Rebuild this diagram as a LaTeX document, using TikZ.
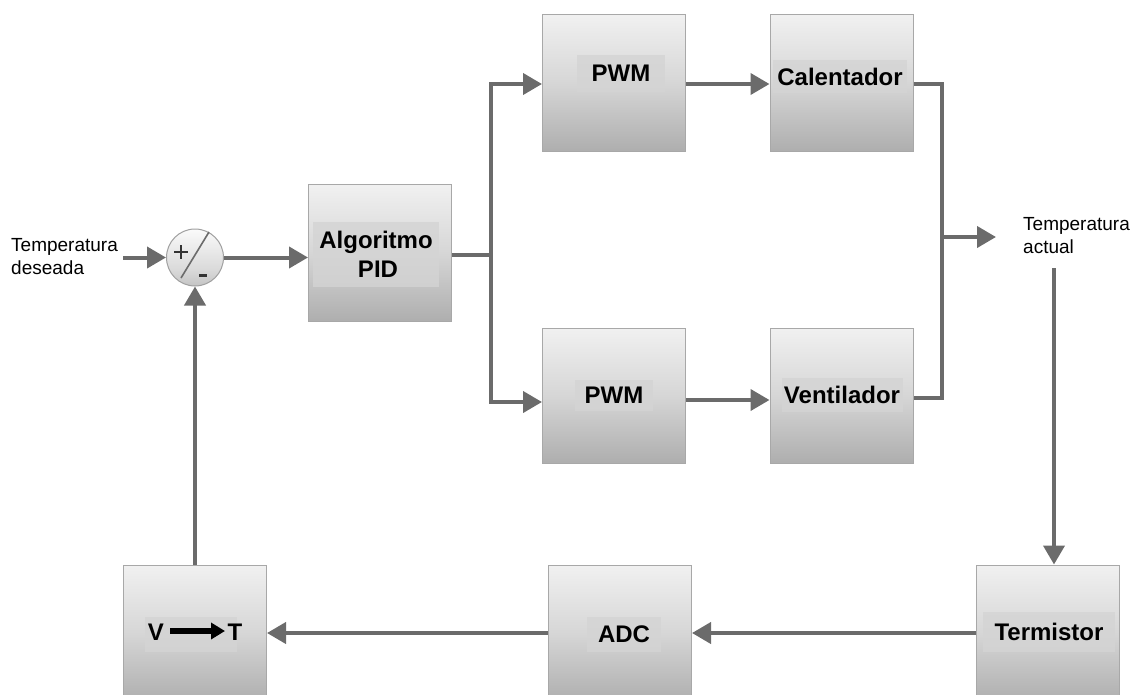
\documentclass[tikz,border=0pt]{standalone}
\usepackage{fontspec}
\setmainfont{Liberation Sans}
\usetikzlibrary{arrows.meta,shapes.geometric}
\definecolor{lc}{HTML}{6B6B6B}
\definecolor{bb}{HTML}{A8A8A8}
\definecolor{hl}{HTML}{D4D4D4}
\definecolor{gA}{HTML}{7A7A7A}
\definecolor{gB}{HTML}{9E9E9E}
\definecolor{gC}{HTML}{D6D6D6}
\definecolor{gD}{HTML}{F6F6F6}
\definecolor{sA}{HTML}{A0A0A0}
\definecolor{sB}{HTML}{DADADA}
\definecolor{sg}{HTML}{333333}
\pgfdeclareverticalshading{boxshade}{100bp}{color(0bp)=(gA); color(15bp)=(gB); color(50bp)=(gC); color(80bp)=(gD); color(100bp)=(white)}
\pgfdeclareverticalshading{sumshade}{100bp}{color(0bp)=(sA); color(40bp)=(sB); color(80bp)=(white); color(100bp)=(white)}
\tikzset{
  blk/.style={draw=bb, line width=1pt, shading=boxshade, minimum width=143pt, minimum height=137pt, inner sep=0pt},
  lab/.style={fill=hl, fill opacity=0.8, text opacity=1, font=\fontsize{24}{29}\selectfont\bfseries, inner sep=0pt, align=center},
  plain/.style={font=\fontsize{19}{23}\selectfont, inner sep=0pt, align=left},
  ln/.style={draw=lc, line width=4pt},
  arr/.style={draw=lc, line width=4pt, -{Triangle[length=19pt,width=21pt]}},
  sgn/.style={draw=sg, line width=2.6pt},
}
\begin{document}
\begin{tikzpicture}[x=1pt,y=-1pt]
\useasboundingbox (0,0) rectangle (1138,694);
\clip (0,0) rectangle (1138,694);

% blocks
\node[blk] (pid)  at (380,253) {};
\node[blk] (pwma) at (614,83) {};
\node[blk] (cal)  at (841.5,83) {};
\node[blk, minimum height=135pt] (pwmb) at (614,395.5) {};
\node[blk, minimum height=135pt] (ven)  at (841.5,395.5) {};
\node[blk] (vt)   at (195,633.5) {};
\node[blk] (adc)  at (620,633.5) {};
\node[blk] (term) at (1048,633.5) {};

% labels
\node[lab, minimum width=126pt, minimum height=65pt] (pidl) at (376,254.5) {Algoritmo\\\hspace*{4pt}PID};
\node[lab, minimum width=88pt, minimum height=37pt] (pwmal) at (621,73.5) {PWM};
\node[lab, minimum width=134pt, minimum height=33pt] (call) at (840,76.5) {Calentador};
\node[lab, minimum width=78pt, minimum height=31pt] (pwmbl) at (614,395.5) {PWM};
\node[lab, minimum width=121pt, minimum height=34pt] (venl) at (842,395) {Ventilador};
\node[lab, minimum width=92pt, minimum height=35pt] (vtl) at (191,634.5) {};
\node[font=\fontsize{24}{29}\selectfont\bfseries, inner sep=0pt] (vtv) at (156,632) {V};
\node[font=\fontsize{24}{29}\selectfont\bfseries, inner sep=0pt] (vtt) at (235,632) {T};
\coordinate (va) at (170,631);
\coordinate (vb) at (225,631);
\draw[black, line width=6.5pt, -{Triangle[length=14pt,width=16pt]}] (va) -- (vb);
\node[lab, minimum width=74pt, minimum height=35pt] (adcl) at (624,634.5) {ADC};
\node[lab, minimum width=132pt, minimum height=40pt] (terml) at (1049,632) {Termistor};

% summing junction
\node[circle, draw=sA, line width=1pt, shading=sumshade, minimum size=57pt, inner sep=0pt] (sum) at (195,257.5) {};
\coordinate (pc) at (181,252);
\draw[sgn] (pc) ++(-7,0) -- ++(14,0);
\draw[sgn] (pc) ++(0,-7) -- ++(0,14);
\coordinate (mc) at (203,275);
\draw[sgn, line width=3pt] (mc) ++(-4,0) -- ++(8,0);
\coordinate (da) at (209,232);
\coordinate (db) at (181,278);
\draw[draw=lc, line width=1.6pt] (da) -- (db);

% texts
\node[plain, anchor=west] (td) at (11,257) {Temperatura\\deseada};
\node[plain, anchor=west] (ta) at (1023,236) {Temperatura\\actual};

% coordinates
\coordinate (j)  at (491,255);
\coordinate (jt) at (491,84);
\coordinate (jb) at (491,402);
\coordinate (vy) at (0,400);
\coordinate (mt) at (942,84);
\coordinate (mb) at (942,398);
\coordinate (m)  at (942,237);
\coordinate (taIn) at (996,237);
\coordinate (ts) at (1054,268);
\coordinate (yb) at (0,633);

% connectors
\draw[arr, shorten <=5pt] (td.east |- sum.west) -- (sum.west);
\draw[arr] (sum.east) -- (sum.east -| pid.west);
\draw[ln] (pid.east |- j) -- (j);
\draw[arr] (j) -- (jt) -- (jt -| pwma.west);
\draw[arr] (j) -- (jb) -- (jb -| pwmb.west);
\draw[arr] (pwma.east |- jt) -- (cal.west |- jt);
\draw[arr] (pwmb.east |- vy) -- (ven.west |- vy);
\draw[ln] (cal.east |- mt) -- (mt) -- (mb) -- (ven.east |- mb);
\draw[arr] (m) -- (taIn);
\draw[arr] (ts) -- (ts |- term.north);
\draw[arr] (term.west |- yb) -- (adc.east |- yb);
\draw[arr] (adc.west |- yb) -- (vt.east |- yb);
\draw[arr] (vt.north) -- (sum.south);
\end{tikzpicture}
\end{document}
